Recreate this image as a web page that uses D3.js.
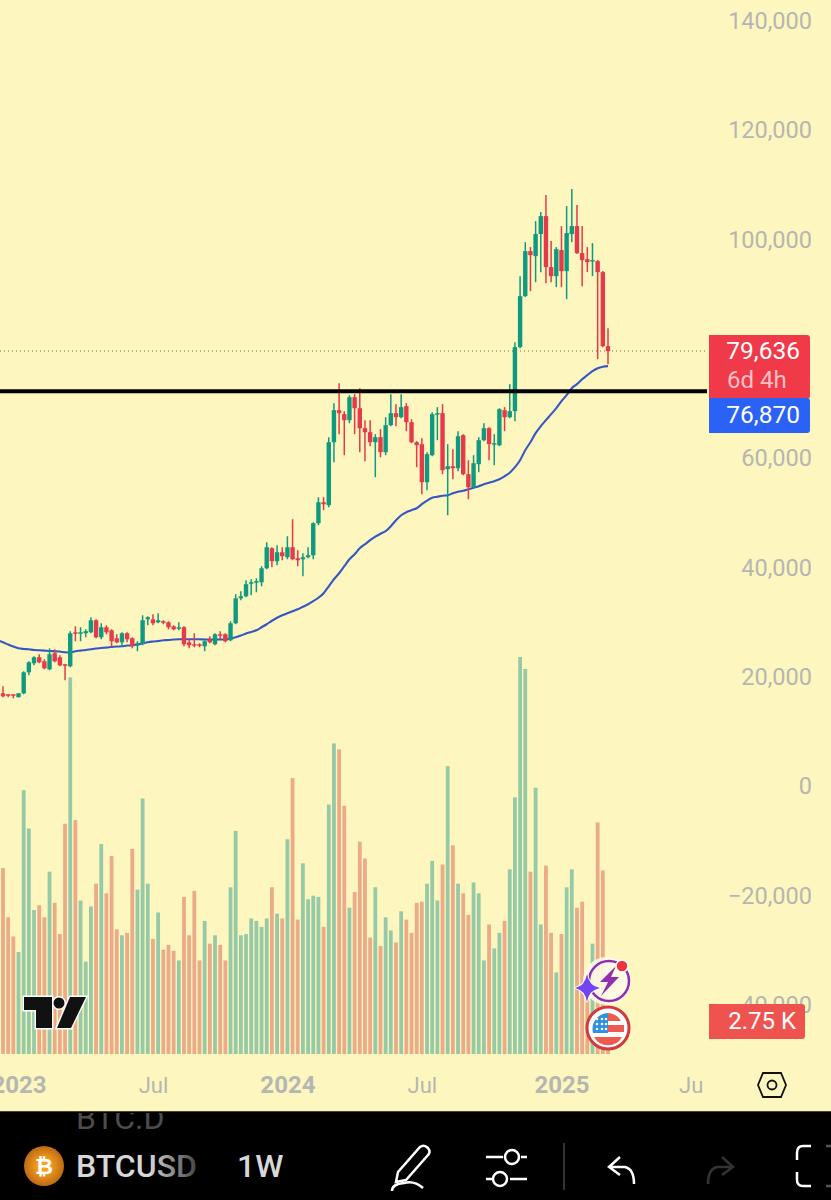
<!DOCTYPE html>
<html>
<head>
<meta charset="utf-8">
<script src="https://cdn.jsdelivr.net/npm/d3@7"></script>
<style>
  html, body { margin: 0; padding: 0; background: #fdf6bf; }
  svg { display: block; font-family: Roboto, sans-serif; }
</style>
</head>
<body>
<svg id="chart" width="831" height="1200"></svg>
<script>
// weekly BTCUSD candles
const opens = [
  17020,16840,16840,16290,17020,20860,22510,23610,22880,21410,
  24340,23610,22330,21960,28180,28000,28000,28180,30380,27270,
  29100,28550,27080,26350,28000,27080,25800,25990,30560,30560,
  30010,30200,30010,29280,28910,29100,26350,25990,25990,25620,
  26900,25990,27820,27820,26720,29830,34400,34770,37150,37330,
  37330,39890,43550,41180,42820,41910,43740,41720,41540,41910,
  42270,48130,51970,51420,62950,68810,68080,66980,71190,69170,
  65510,64780,62950,63870,61120,66060,68260,67530,69540,66610,
  62950,62590,55630,60570,68080,68260,58010,58560,58190,64230,
  57100,54720,58930,63320,65510,62590,62400,68810,67530,68630,
  80340,89670,97910,96990,101020,104310,94980,93330,98090,94250,
  101020,102480,97540,96440,96080,96080,94060,80520
];
const highs = [
  18300,16840,16840,17020,21050,22880,23790,24160,23240,25250,
  25070,23970,22330,28370,29280,29100,28730,30930,30560,29830,
  29460,28730,27820,28180,28180,27270,26540,31290,31110,31480,
  31660,30380,30200,29460,30010,29280,26900,28000,26170,26720,
  27450,28000,28370,28000,30200,35140,35690,37700,37880,38060,
  40260,44650,43740,44100,43740,45750,48860,43190,42640,43740,
  48310,52890,52890,63870,70090,73750,68630,71550,71740,72830,
  66980,66980,64420,65330,67530,71740,69910,71740,70090,67160,
  63140,63680,61120,68440,69360,69910,62590,61670,64970,64420,
  59660,60570,63870,66430,65700,64420,69170,69360,73570,81250,
  93330,99550,98640,103400,105040,108150,99740,98640,102480,106140,
  109250,106320,102480,98640,99370,96260,94250,83810
];
const lows = [
  16290,16290,16100,16290,16840,20310,22140,22510,21410,21230,
  22690,21960,19400,21780,26540,26540,27270,28000,27080,26900,
  27820,25620,26170,25620,26350,25250,24710,25800,29460,29460,
  29830,29650,28730,28550,28550,25620,25250,25440,25440,24710,
  26170,25800,26900,26350,26540,29650,34040,34590,34950,35500,
  36600,39710,40080,40440,41360,41540,41360,40260,38430,41720,
  41540,47760,50510,51060,59290,64420,60570,66430,64420,61120,
  59480,62220,56550,60210,60570,65880,65880,67340,64970,62770,
  58380,53440,54170,60390,63320,57100,49590,56180,57650,56910,
  52520,54530,57460,63140,59660,58740,62220,64970,67340,66800,
  80150,89490,90590,92230,94060,92050,92230,91320,91320,89120,
  99550,97360,91500,94060,93330,78140,80340,77230
];
const closes = [
  16470,16650,16650,17020,20860,22690,23610,22690,21590,24160,
  22880,22140,22140,28000,28000,28180,28370,30380,27270,29100,
  28180,26540,26350,28000,26900,25620,26170,30380,30930,29830,
  30380,30010,29100,28730,29100,25990,25800,25800,25800,26540,
  26350,27820,27630,26540,29830,34400,34770,36970,37330,37520,
  39890,43740,41180,42820,42090,43740,41540,41360,41910,42270,
  48130,51970,51610,62950,68810,68260,66980,71190,69170,65510,
  64780,62950,63870,61120,66060,68260,67530,69360,66610,62950,
  62400,55630,60760,68080,68260,57830,58560,58190,64050,57100,
  54720,59110,63320,65510,62590,62770,68990,67530,68630,80340,
  89670,97910,97170,101020,104310,94980,93330,98270,94250,101200,
  102480,97540,96260,95890,96260,94060,80520,79636
];
// volume in thousands
const volumes = [
  15.5,11.4,9.8,8.5,22.0,18.8,12.0,12.4,11.4,15.2,
  12.6,10.0,19.2,31.4,19.5,12.8,7.7,12.3,14.2,17.5,
  13.4,16.5,10.4,9.9,10.1,17.1,13.7,21.3,14.2,9.6,
  11.8,8.7,9.1,8.6,7.8,13.1,9.9,13.6,7.8,11.1,
  9.2,9.9,9.1,7.8,13.9,18.6,9.9,10.0,11.3,11.1,
  10.6,11.3,13.9,11.7,11.3,17.9,23.0,11.2,15.9,12.9,
  13.2,13.1,10.6,20.8,25.9,25.4,20.7,12.2,13.5,17.7,
  16.3,9.7,13.9,9.0,11.4,10.3,9.3,11.9,11.2,10.1,
  12.6,12.7,14.2,16.1,12.8,15.8,24.0,17.4,14.2,13.4,
  11.6,14.3,13.4,7.8,10.8,8.8,10.1,11.1,15.4,21.4,
  33.1,32.1,15.2,22.2,10.8,15.7,10.1,6.8,10.0,13.9,
  15.4,12.2,12.7,5.0,9.2,19.3,15.3,2.75
];
// blue moving average, first value is the week before the first candle
const maValues = [
  26720,
  26350,25930,25570,25250,25130,25070,24940,24890,24830,24760,
  24710,24650,24520,24470,24710,24830,24940,25070,25200,25310,
  25380,25490,25570,25620,25750,25800,25930,26170,26350,26480,
  26590,26720,26770,26850,26900,26900,26900,26900,26900,26850,
  26850,26850,26850,26900,27030,27270,27580,27940,28240,28550,
  29100,29650,30290,30840,31290,31660,32030,32390,32850,33310,
  33860,34500,35320,36600,37880,38980,40260,41540,42460,43550,
  44290,45020,45660,46210,46670,47580,48680,49590,50140,50510,
  50870,51610,52250,52800,52980,53160,53250,53620,53890,54080,
  54350,54630,54900,55270,55540,55820,56180,56730,57370,58380,
  59660,61490,62950,64600,65880,66980,68080,69170,70460,71550,
  72830,73570,74480,75210,75950,76490,76770,76870
];
const priceTicks = [140000, 120000, 100000, 60000, 40000, 20000, 0, -20000, -40000];
const timeTicks = [
  { date: "2023-01-02", label: "2023", year: true },
  { date: "2023-07-03", label: "Jul" },
  { date: "2024-01-01", label: "2024", year: true },
  { date: "2024-07-01", label: "Jul" },
  { date: "2025-01-06", label: "2025", year: true },
  { date: "2025-06-30", label: "Ju" }
];
const levelPrice = 72250;
const lastPrice = 79636;
const maLast = 76870;

const bg = "#fdf6bf";
const upColor = "#0f9a80";
const downColor = "#e53a4a";
const upVol = "#96c9a6";
const downVol = "#ebaa88";
const axisColor = "#b5b6b2";

const svg = d3.select("#chart");
const weeks = d3.utcMonday.range(new Date(Date.UTC(2022, 11, 12)), new Date(Date.UTC(2025, 2, 11)));
const maWeeks = d3.utcMonday.range(new Date(Date.UTC(2022, 11, 5)), new Date(Date.UTC(2025, 2, 11)));

svg.append("rect").attr("width", 831).attr("height", 1200).attr("fill", bg);

const x = d3.scaleUtc().domain([weeks[0], weeks[weeks.length - 1]]).range([3, 608]);
const y = d3.scaleLinear().domain([-40000, 140000]).range([1005, 21]);
const yVol = d3.scaleLinear().domain([0, 33.1]).range([1054, 657]);

// volume bars
svg.append("g").selectAll("rect")
  .data(volumes)
  .join("rect")
  .attr("x", (d, i) => x(weeks[i]) - 1.9)
  .attr("y", d => yVol(d))
  .attr("width", 3.8)
  .attr("height", d => yVol(0) - yVol(d))
  .attr("fill", (d, i) => closes[i] >= opens[i] ? upVol : downVol);

// last price dotted line
svg.append("line")
  .attr("x1", 0).attr("x2", 708)
  .attr("y1", y(lastPrice)).attr("y2", y(lastPrice))
  .attr("stroke", "#8d5a3c").attr("stroke-width", 1.1).attr("stroke-dasharray", "1 3");

// moving average
const maLine = d3.line()
  .x((d, i) => x(maWeeks[i]))
  .y(d => y(d))
  .curve(d3.curveMonotoneX);
svg.append("path")
  .attr("d", maLine(maValues))
  .attr("fill", "none")
  .attr("stroke", "#3557c4")
  .attr("stroke-width", 2.1);

// candles
const candles = svg.append("g").selectAll("g")
  .data(weeks)
  .join("g");
candles.append("line")
  .attr("x1", d => x(d)).attr("x2", d => x(d))
  .attr("y1", (d, i) => y(highs[i])).attr("y2", (d, i) => y(lows[i]))
  .attr("stroke-width", 1.5)
  .attr("stroke", (d, i) => closes[i] >= opens[i] ? upColor : downColor);
candles.append("rect")
  .attr("x", d => x(d) - 2.2)
  .attr("width", 4.4)
  .attr("y", (d, i) => y(Math.max(opens[i], closes[i])))
  .attr("height", (d, i) => Math.max(1.5, Math.abs(y(opens[i]) - y(closes[i]))))
  .attr("fill", (d, i) => closes[i] >= opens[i] ? upColor : downColor);

// horizontal level
svg.append("line")
  .attr("x1", 0).attr("x2", 707)
  .attr("y1", y(levelPrice)).attr("y2", y(levelPrice))
  .attr("stroke", "#000").attr("stroke-width", 4);

// axes
const yAxis = d3.axisRight(y).tickValues(priceTicks).tickFormat(d3.format(",")).tickSize(0);
const gy = svg.append("g").attr("transform", "translate(812,0)").call(yAxis);
gy.select(".domain").remove();
gy.selectAll("text")
  .attr("x", 0).attr("text-anchor", "end")
  .attr("fill", axisColor)
  .style("font-size", "23.5px").style("font-family", "Roboto");

const xAxis = d3.axisBottom(x)
  .tickValues(timeTicks.map(t => new Date(t.date + "T00:00:00Z")))
  .tickFormat((d, i) => timeTicks[i].label)
  .tickSize(0);
const gx = svg.append("g").attr("transform", "translate(0,1085)").call(xAxis);
gx.select(".domain").remove();
gx.selectAll("text")
  .attr("y", 0).attr("dy", "0.35em")
  .attr("fill", axisColor)
  .style("font-family", "Roboto")
  .style("font-size", (d, i) => timeTicks[i].year ? "24px" : "22px")
  .style("font-weight", (d, i) => timeTicks[i].year ? 700 : 400);

// price labels
function rightRound(px, py, w, h, r) {
  return `M${px},${py}H${px + w - r}Q${px + w},${py} ${px + w},${py + r}V${py + h - r}Q${px + w},${py + h} ${px + w - r},${py + h}H${px}Z`;
}
svg.append("path").attr("d", rightRound(709, 335, 101, 64, 3)).attr("fill", "#f03a4a");
svg.append("path").attr("d", rightRound(709, 398, 101, 35, 3)).attr("fill", "#2962f5");
svg.append("path").attr("d", rightRound(709, 1004, 96, 35, 3)).attr("fill", "#ef5350");

function label(text, px, py, size, fill, anchor) {
  return svg.append("text")
    .attr("x", px).attr("y", py).attr("dy", "0.35em")
    .attr("text-anchor", anchor || "end")
    .attr("font-size", size).attr("fill", fill)
    .text(text);
}
label(d3.format(",")(lastPrice), 800, y(lastPrice) - 1, 24.5, "#fff");
label("6d 4h", 727, 380, 24, "#fbc0c4", "start");
label(d3.format(",")(maLast), 800, 414, 24.5, "#fff");
label("2.75 K", 796, 1021, 24, "#fff");

// settings hexagon
svg.append("path")
  .attr("d", "M763,1073H781L786,1085L781,1097H763L758,1085Z")
  .attr("fill", "none").attr("stroke", "#111").attr("stroke-width", 1.8);
svg.append("circle").attr("cx", 772).attr("cy", 1085).attr("r", 4.5)
  .attr("fill", "none").attr("stroke", "#111").attr("stroke-width", 1.8);

// tradingview logo
const logo = svg.append("g");
logo.append("path")
  .attr("d", "M24,997H52V1028H36V1010H24Z")
  .attr("fill", "#111").attr("stroke", "#fff").attr("stroke-width", 3).attr("paint-order", "stroke");
logo.append("circle").attr("cx", 59).attr("cy", 1003).attr("r", 5.5)
  .attr("fill", "#111").attr("stroke", "#fff").attr("stroke-width", 3).attr("paint-order", "stroke");
logo.append("path")
  .attr("d", "M70,997H86L71,1028H57Z")
  .attr("fill", "#111").attr("stroke", "#fff").attr("stroke-width", 3).attr("paint-order", "stroke");

// lightning badge
const badge = svg.append("g");
badge.append("circle").attr("cx", 607).attr("cy", 981).attr("r", 24).attr("fill", "#fdfbe8").attr("opacity", 0.9);
badge.append("circle").attr("cx", 609).attr("cy", 981).attr("r", 20)
  .attr("fill", "none").attr("stroke", "#8e2fb0").attr("stroke-width", 2.5);
badge.append("path").attr("d", "M616,966L600,982H608L601,996L619,977H611Z").attr("fill", "#8e2fb0");
badge.append("path").attr("d", "M587,974Q589,986 600,988Q589,990 587,1002Q585,990 575,988Q585,986 587,974Z")
  .attr("fill", "#7344f0").attr("stroke", "#fff").attr("stroke-width", 2).attr("paint-order", "stroke");
badge.append("circle").attr("cx", 622).attr("cy", 966).attr("r", 6).attr("fill", "#ee3340")
  .attr("stroke", "#fff").attr("stroke-width", 1.5);

// us flag badge
const flag = svg.append("g");
flag.append("circle").attr("cx", 608).attr("cy", 1028).attr("r", 21).attr("fill", "#fff")
  .attr("stroke", "#d13a3f").attr("stroke-width", 3);
flag.append("path").attr("d", "M593,1033A16,16 0 0 1 608,1013V1033Z").attr("fill", "#2f8fe0");
flag.append("path").attr("d", "M608,1013A16,16 0 0 1 621,1021H608Z").attr("fill", "#ee5a50");
flag.append("rect").attr("x", 608).attr("y", 1025).attr("width", 16).attr("height", 7).attr("fill", "#ee5a50");
flag.append("path").attr("d", "M594,1037H622A16,16 0 0 1 594,1037Z").attr("fill", "#ee5a50");
flag.append("g").selectAll("circle")
  .data(d3.cross([597, 602, 606], [1019, 1024, 1029]))
  .join("circle")
  .attr("cx", d => d[0]).attr("cy", d => d[1]).attr("r", 1.3).attr("fill", "#fff");

// bottom toolbar
svg.append("rect").attr("x", 0).attr("y", 1112).attr("width", 831).attr("height", 88).attr("fill", "#000");
svg.append("line").attr("x1", 0).attr("x2", 831).attr("y1", 1111.5).attr("y2", 1111.5)
  .attr("stroke", "#4a4526").attr("stroke-width", 1);

const defs = svg.append("defs");
const fade = defs.append("linearGradient").attr("id", "fade");
fade.append("stop").attr("offset", "0.6").attr("stop-color", "#d8d8d8");
fade.append("stop").attr("offset", "1").attr("stop-color", "#444");
const coin = defs.append("radialGradient").attr("id", "coin");
coin.append("stop").attr("offset", "0.3").attr("stop-color", "#f7a11e");
coin.append("stop").attr("offset", "1").attr("stop-color", "#bd6a15");
defs.append("clipPath").attr("id", "bar-clip").append("rect")
  .attr("x", 0).attr("y", 1113).attr("width", 831).attr("height", 87);

svg.append("g").attr("clip-path", "url(#bar-clip)").append("text")
  .attr("x", 76).attr("y", 1129).attr("font-size", 32).attr("fill", "#4c4c4c").text("BTC.D");
svg.append("circle").attr("cx", 44).attr("cy", 1166).attr("r", 20).attr("fill", "url(#coin)");
svg.append("text").attr("x", 44).attr("y", 1166).attr("dy", "0.35em").attr("text-anchor", "middle")
  .attr("font-size", 22).attr("font-weight", 700).attr("fill", "#fff").text("₿");
svg.append("text").attr("x", 76).attr("y", 1166).attr("dy", "0.35em")
  .attr("font-size", 32).attr("font-weight", 500).attr("fill", "url(#fade)").text("BTCUSD");
svg.append("text").attr("x", 237).attr("y", 1166).attr("dy", "0.35em")
  .attr("font-size", 32).attr("font-weight", 500).attr("fill", "#d8d8d8").text("1W");

const icons = svg.append("g").attr("fill", "none").attr("stroke", "#fff").attr("stroke-width", 2.5);
icons.append("path").attr("d", "M398,1172L420,1147Q424,1144 428,1148Q431,1152 428,1155L406,1180L396,1182Z");
icons.append("path").attr("d", "M392,1191Q392,1184 404,1183Q414,1180 423,1188");
icons.append("path").attr("d", "M486,1157H503M521,1157H527M486,1179H492M510,1179H527");
icons.append("circle").attr("cx", 512).attr("cy", 1157).attr("r", 7);
icons.append("circle").attr("cx", 500).attr("cy", 1179).attr("r", 7);
icons.append("path").attr("d", "M564,1143V1190").attr("stroke", "#444").attr("stroke-width", 1.5);
icons.append("path").attr("d", "M620,1157L609,1167L620,1175M609,1167H625Q634,1169 634,1184");
icons.append("path").attr("d", "M722,1157L733,1167L722,1175M733,1167H717Q708,1169 708,1184").attr("stroke", "#333");
icons.append("path").attr("d", "M811,1146H803Q797,1146 797,1153V1160M797,1172V1180Q797,1186 803,1186H811");
icons.append("path").attr("d", "M826,1146H831M826,1186H831").attr("stroke", "#555");
</script>
</body>
</html>
